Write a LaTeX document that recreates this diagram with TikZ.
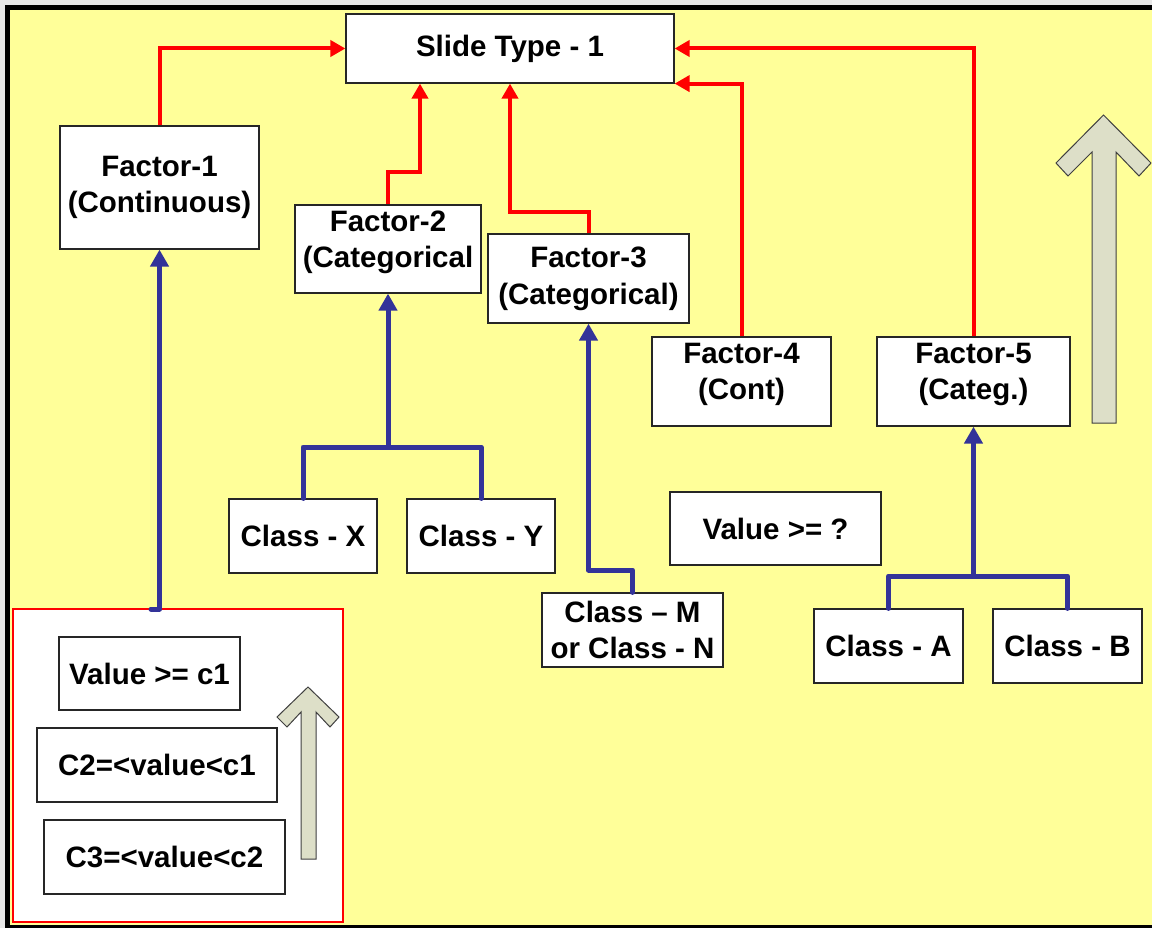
\documentclass[tikz,border=0pt]{standalone}
\usepackage{fontspec}
\setmainfont{Liberation Sans}
\usetikzlibrary{arrows.meta}
\definecolor{slideyellow}{HTML}{FFFF99}
\definecolor{linkblue}{HTML}{333399}
\definecolor{linkred}{HTML}{FF0000}
\definecolor{blockgray}{HTML}{DDDFC8}
\definecolor{framegray}{HTML}{E8E8E8}
\tikzset{
  box/.style={draw=black!85, line width=1.2pt, fill=white, inner sep=0pt,
    font=\bfseries\fontsize{29.5}{36.5}\selectfont, align=center},
  lbl/.style={font=\bfseries\fontsize{29.5}{36.5}\selectfont, align=center, inner sep=0pt},
  uplink/.style={draw=linkred, line width=4pt, -{Triangle[width=16pt,length=15pt]}},
  feed/.style={draw=linkblue, line width=5pt, line cap=round, line join=round},
  feedarrow/.style={feed, -{Triangle[width=18pt,length=17pt]}},
  block/.style={fill=blockgray, draw=black!75, line width=1pt},
}
\begin{document}
\begin{tikzpicture}[x=1pt,y=-1pt]
\useasboundingbox (0,0) rectangle (1152,928);
% slide frame
\fill[framegray] (0,0) rectangle (1152,928);
\fill[black] (5,5) rectangle (1160,933);
\fill[slideyellow] (10,10) rectangle (1160,925);

% target box
\node[box, minimum width=328pt, minimum height=69pt] (slide) at (510,48.5) {Slide Type - 1};

% factor boxes
\node[box, minimum width=199pt, minimum height=123pt] (f1) at (159.5,187.5) {};
\node[lbl] (f1t) at (159.5,187.5) {Factor-1\\(Continuous)};
\node[box, minimum width=186pt, minimum height=88pt] (f2) at (388,249) {};
\node[lbl] (f2t) at (388,242.5) {Factor-2\\(Categorical};
\node[box, minimum width=201pt, minimum height=89pt] (f3) at (588.5,278.5) {};
\node[lbl] (f3t) at (588.5,279) {Factor-3\\(Categorical)};
\node[box, minimum width=179pt, minimum height=89pt] (f4) at (741.5,381.5) {};
\node[lbl] (f4t) at (741.5,374.5) {Factor-4\\(Cont)};
\node[box, minimum width=193pt, minimum height=89pt] (f5) at (973.5,381.5) {};
\node[lbl] (f5t) at (973.5,374.5) {Factor-5\\(Categ.)};

% class boxes
\node[box, minimum width=211pt, minimum height=73pt] (vq) at (775.5,528.5) {Value >= ?};
\node[box, minimum width=148pt, minimum height=74pt] (cx) at (303,536) {Class - X};
\node[box, minimum width=148pt, minimum height=74pt] (cy) at (481,536) {Class - Y};
\node[box, minimum width=181pt, minimum height=74pt] (cmn) at (632.5,630) {};
\node[lbl] (cmnt) at (632.5,630) {Class – M\\or Class - N};
\node[box, minimum width=149pt, minimum height=74pt] (ca) at (888.5,646) {Class - A};
\node[box, minimum width=149pt, minimum height=74pt] (cb) at (1067.5,646) {Class - B};

% value ranges for the continuous factor
\node[draw=linkred, line width=2pt, fill=white, minimum width=330pt, minimum height=313pt, inner sep=0pt] (range) at (178,765.5) {};
\node[box, minimum width=181pt, minimum height=73pt] (v1) at (149.5,673.5) {Value >= c1};
\node[box, minimum width=240pt, minimum height=74pt] (v2) at (157,765) {C2=<value<c1};
\node[box, minimum width=241pt, minimum height=74pt] (v3) at (164.5,857) {C3=<value<c2};

% block arrows
\filldraw[block] (301,859) -- (301,712) -- (287,727) -- (277,717) -- (308,687)
  -- (339,717) -- (330,727) -- (316,712) -- (316,859) -- cycle;
\filldraw[block] (1092,423) -- (1092,152) -- (1068,176) -- (1056,163) -- (1103.5,115)
  -- (1151,163) -- (1139,176) -- (1116,152) -- (1116,423) -- cycle;

% factors to slide type
\coordinate (r2) at (420,172);
\coordinate (r3) at (510,212);
\draw[uplink] (f1.north) |- (slide.west);
\draw[uplink] (f2.north) |- (r2) -- (r2 |- slide.south);
\draw[uplink] (f3.north) |- (r3) -- (r3 |- slide.south);
\draw[uplink] (f4.north) |- (slide.south east);
\draw[uplink] (f5.north) |- (slide.east);

% classes to factors
\coordinate (hook) at (151,609);
\coordinate (j2) at (388,447);
\coordinate (j3) at (588.5,570);
\coordinate (j5) at (973.5,576);
\draw[feedarrow] (hook) -- (hook -| f1.south) -- (f1.south);
\draw[feed] (cx.north) -- (cx.north |- j2) -- (cy.north |- j2) -- (cy.north);
\draw[feedarrow] (j2) -- (f2.south);
\draw[feedarrow] (cmn.north) |- (j3) -- (f3.south);
\draw[feed] (ca.north) -- (ca.north |- j5) -- (cb.north |- j5) -- (cb.north);
\draw[feedarrow] (j5) -- (f5.south);
\end{tikzpicture}
\end{document}
